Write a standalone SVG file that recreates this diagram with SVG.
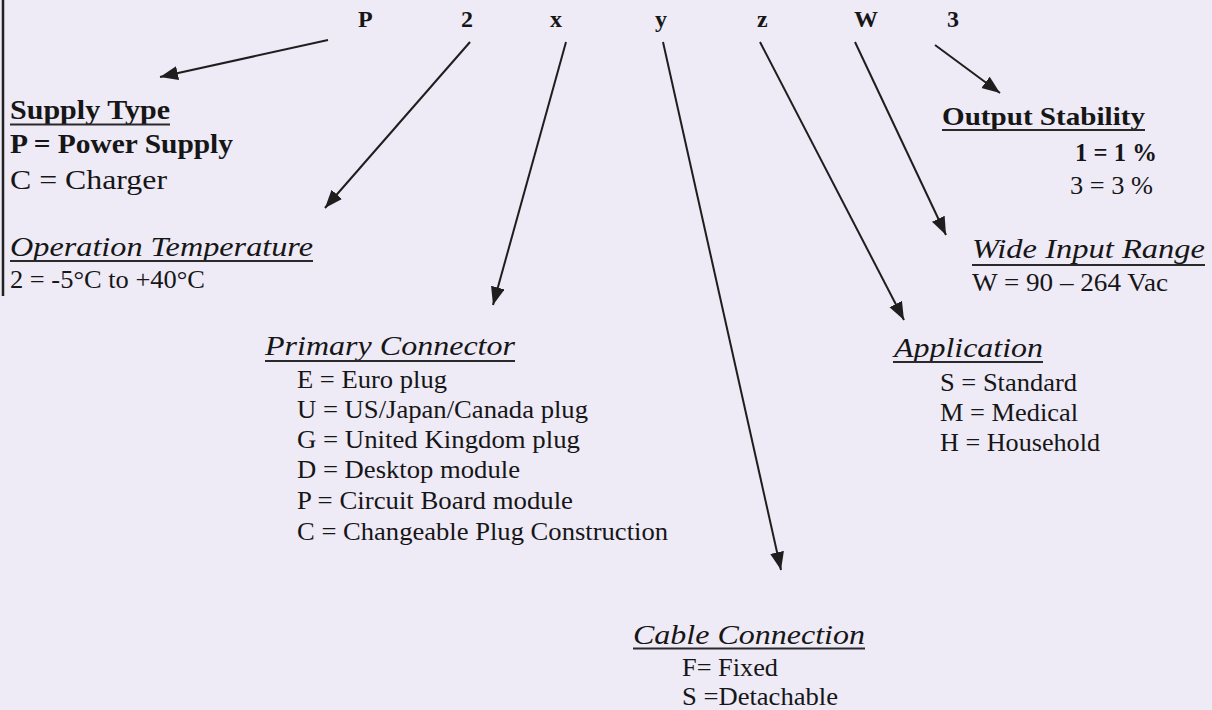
<svg xmlns="http://www.w3.org/2000/svg" width="1212" height="710" viewBox="0 0 1212 710">
<defs>
<style>
text{font-family:"Liberation Serif","Times New Roman",serif;fill:#161616}
.code{font-size:24px;font-weight:bold}
.hb{font-size:27px;font-weight:bold}
.hi{font-size:27px;font-style:italic}
.it{font-size:25px}
.itb{font-size:25px;font-weight:bold}
.ul{stroke:#2a2a2a;stroke-width:2}
.conn line{stroke:#1e1e1e;stroke-width:2;marker-end:url(#ah)}
</style>
<marker id="ah" markerUnits="userSpaceOnUse" markerWidth="20" markerHeight="16" refX="18" refY="7" orient="auto">
<path d="M0,0 L18,7 L0,14 Z" fill="#1e1e1e"/>
</marker>
</defs>
<rect width="1212" height="710" fill="#eeeaf6"/>
<line x1="3" y1="0" x2="3" y2="296" stroke="#222" stroke-width="2.5"/>

<g id="code">
<text class="code" x="358" y="27">P</text>
<text class="code" x="461" y="27">2</text>
<text class="code" x="550" y="27">x</text>
<text class="code" x="655" y="27">y</text>
<text class="code" x="757" y="27">z</text>
<text class="code" x="854" y="27">W</text>
<text class="code" x="947" y="27">3</text>
</g>

<g id="connectors" class="conn">
<line x1="328" y1="40" x2="160" y2="77"/>
<line x1="470" y1="42" x2="325" y2="208"/>
<line x1="566" y1="42" x2="493" y2="305"/>
<line x1="663" y1="42" x2="781" y2="570"/>
<line x1="760" y1="42" x2="904" y2="320"/>
<line x1="855" y1="42" x2="946" y2="235"/>
<line x1="935" y1="45" x2="1000" y2="93"/>
</g>

<g id="supply-type">
<text class="hb" x="10" y="119" textLength="160" lengthAdjust="spacingAndGlyphs">Supply Type</text>
<line class="ul" x1="10" y1="124.5" x2="170" y2="124.5"/>
<text class="hb" x="10" y="153" textLength="223" lengthAdjust="spacingAndGlyphs">P = Power Supply</text>
<text class="it" x="10" y="189" style="font-size:28px" textLength="157" lengthAdjust="spacingAndGlyphs">C = Charger</text>
</g>

<g id="operation-temperature">
<text class="hi" x="10" y="256" textLength="303" lengthAdjust="spacingAndGlyphs">Operation Temperature</text>
<line class="ul" x1="10" y1="261" x2="313" y2="261"/>
<text class="it" x="10" y="288" textLength="195" lengthAdjust="spacingAndGlyphs">2 = -5°C to +40°C</text>
</g>

<g id="primary-connector">
<text class="hi" x="265" y="355" textLength="250" lengthAdjust="spacingAndGlyphs">Primary Connector</text>
<line class="ul" x1="265" y1="361" x2="515" y2="361"/>
<text class="it" x="297" y="388" textLength="150" lengthAdjust="spacingAndGlyphs">E = Euro plug</text>
<text class="it" x="297" y="418" textLength="291" lengthAdjust="spacingAndGlyphs">U = US/Japan/Canada plug</text>
<text class="it" x="297" y="448" textLength="283" lengthAdjust="spacingAndGlyphs">G = United Kingdom plug</text>
<text class="it" x="297" y="478" textLength="223" lengthAdjust="spacingAndGlyphs">D = Desktop module</text>
<text class="it" x="297" y="509" textLength="276" lengthAdjust="spacingAndGlyphs">P = Circuit Board module</text>
<text class="it" x="297" y="540" textLength="371" lengthAdjust="spacingAndGlyphs">C = Changeable Plug Construction</text>
</g>

<g id="cable-connection">
<text class="hi" x="633" y="644" textLength="232" lengthAdjust="spacingAndGlyphs">Cable Connection</text>
<line class="ul" x1="633" y1="648.5" x2="865" y2="648.5"/>
<text class="it" x="682" y="676" textLength="96" lengthAdjust="spacingAndGlyphs">F= Fixed</text>
<text class="it" x="682" y="705" textLength="156" lengthAdjust="spacingAndGlyphs">S =Detachable</text>
</g>

<g id="application">
<text class="hi" x="894" y="357" textLength="149" lengthAdjust="spacingAndGlyphs">Application</text>
<line class="ul" x1="893" y1="362" x2="1043" y2="362"/>
<text class="it" x="940" y="391" textLength="137" lengthAdjust="spacingAndGlyphs">S = Standard</text>
<text class="it" x="940" y="421" textLength="138" lengthAdjust="spacingAndGlyphs">M = Medical</text>
<text class="it" x="940" y="451" textLength="160" lengthAdjust="spacingAndGlyphs">H = Household</text>
</g>

<g id="wide-input-range">
<text class="hi" x="972" y="258" textLength="233" lengthAdjust="spacingAndGlyphs">Wide Input Range</text>
<line class="ul" x1="972" y1="265" x2="1205" y2="265"/>
<text class="it" x="972" y="291" textLength="196" lengthAdjust="spacingAndGlyphs">W = 90 – 264 Vac</text>
</g>

<g id="output-stability">
<text class="hb" x="942" y="125" style="font-size:26px" textLength="203" lengthAdjust="spacingAndGlyphs">Output Stability</text>
<line class="ul" x1="942" y1="130" x2="1145" y2="130"/>
<text class="itb" x="1075" y="161" textLength="82" lengthAdjust="spacingAndGlyphs">1 = 1 %</text>
<text class="it" x="1070" y="194" textLength="83" lengthAdjust="spacingAndGlyphs">3 = 3 %</text>
</g>
</svg>
